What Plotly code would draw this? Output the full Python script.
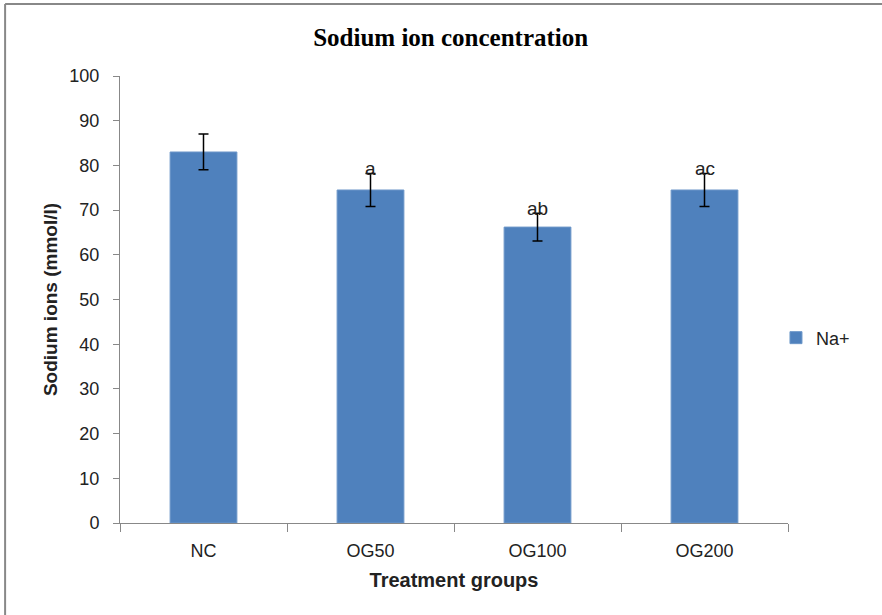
import plotly.graph_objects as go

categories = ["NC", "OG50", "OG100", "OG200"]
values = [83.0, 74.5, 66.2, 74.5]
errors = [4.0, 3.7, 3.1, 3.7]
sig_labels = ["", "a", "ab", "ac"]
series_name = "Na+"

FONT = "Liberation Sans, Arial, sans-serif"
BLUE = "#4F81BD"

fig = go.Figure()
fig.add_trace(go.Bar(
    x=categories, y=values, name=series_name,
    marker=dict(color=BLUE, line=dict(color="#6d97c9", width=1)),
    error_y=dict(type="data", array=errors, visible=True,
                 color="black", thickness=1.5, width=5),
    showlegend=True,
))

for c, v, e, s in zip(categories, values, errors, sig_labels):
    if s:
        fig.add_annotation(x=c, y=v + e, text=s, showarrow=False,
                           xref="x", yref="y", yanchor="bottom", yshift=-8,
                           font=dict(family=FONT, size=19, color="#222222"))

# outer frame
fig.add_shape(type="line", xref="paper", yref="paper",
              x0=-0.172, x1=-0.172, y0=-0.3, y1=1.161,
              line=dict(color="#888888", width=2))
fig.add_shape(type="line", xref="paper", yref="paper",
              x0=-0.172, x1=1.3, y0=1.161, y1=1.161,
              line=dict(color="#888888", width=2))

fig.update_layout(
    width=882, height=615,
    margin=dict(l=120, r=94, t=76, b=92),
    paper_bgcolor="white", plot_bgcolor="white",
    bargap=0.6,
    title=dict(text="<b>Sodium ion concentration</b>", x=0.511, xanchor="center",
               y=0.94, yanchor="middle",
               font=dict(family="Liberation Serif, Times New Roman, serif", size=25, color="black")),
    font=dict(family=FONT, size=18, color="black"),
    legend=dict(x=0.982, xanchor="left", y=0.414, yanchor="middle",
                font=dict(family=FONT, size=18, color="#222222"),
                itemwidth=30),
    xaxis=dict(
        type="category", tickson="boundaries", ticks="outside", ticklen=8,
        tickcolor="#888888", showline=True, linecolor="#888888", linewidth=1,
        showgrid=False, ticklabelstandoff=11,
        title=dict(text="<b>Treatment groups</b>", standoff=13,
                   font=dict(family=FONT, size=20, color="#222222")),
        tickfont=dict(family=FONT, size=18, color="#222222"),
    ),
    yaxis=dict(
        range=[0, 100], dtick=10, ticks="outside", ticklen=6,
        tickcolor="#888888", showline=True, linecolor="#888888", linewidth=1,
        showgrid=False, zeroline=False, ticklabelstandoff=10,
        title=dict(text="<b>Sodium ions (mmol/l)</b>", standoff=6,
                   font=dict(family=FONT, size=19, color="#222222")),
        tickfont=dict(family=FONT, size=18, color="#222222"),
    ),
)

fig.write_html("out.html")
